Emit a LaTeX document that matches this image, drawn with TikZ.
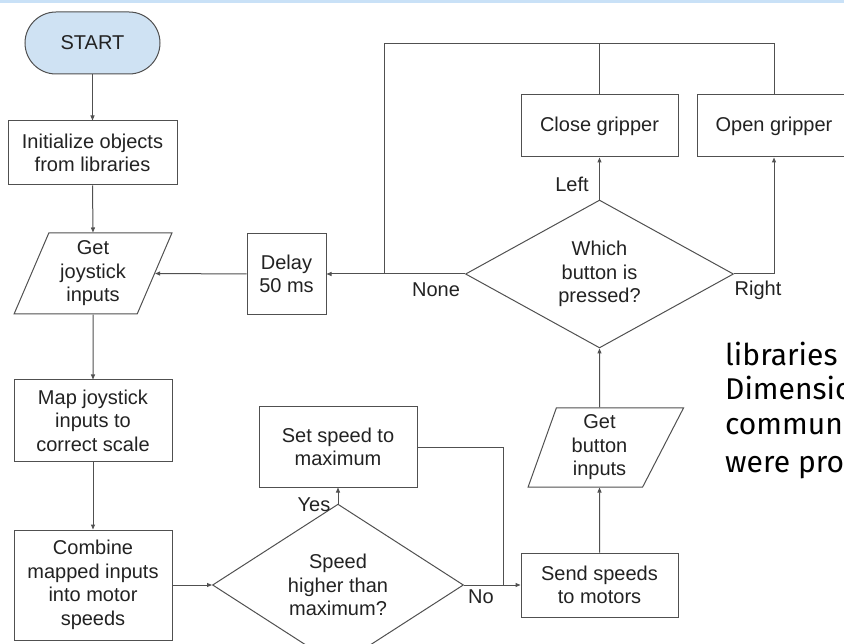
\documentclass[tikz,border=0pt]{standalone}
\usepackage{fontspec}
\setmainfont{Liberation Sans}
\newfontfamily\sidefont{Fira Sans}
\usetikzlibrary{shapes.geometric,arrows.meta}
\definecolor{startfill}{HTML}{CFE2F3}
\definecolor{band}{HTML}{C9E1F7}
\definecolor{edge}{HTML}{505050}
\definecolor{ink}{HTML}{222222}
\begin{document}
\begin{tikzpicture}[x=1pt,y=-1pt,
  every node/.style={font=\fontsize{20}{23.5}\selectfont, text=ink},
  box/.style={draw=edge, line width=1pt, rectangle, inner sep=0pt, align=center},
  startbox/.style={box, fill=startfill, rounded corners=31pt},
  iobox/.style={draw=edge, line width=1pt, trapezium, trapezium stretches=true, inner sep=0pt, align=center},
  dia/.style={draw=edge, line width=1pt, diamond, inner sep=0pt, align=center},
  conn/.style={draw=edge, line width=1pt},
  arr/.style={conn, -{Triangle[length=5pt,width=4pt]}},
  lbl/.style={inner sep=0pt},
  side/.style={anchor=base west, inner sep=0pt, text=black, font=\sidefont\fontsize{30}{35}\selectfont}
]
\useasboundingbox (0,0) rectangle (844,644);
\fill[band] (0,0) rectangle (844,3.3);

% nodes
\node[startbox, minimum width=135, minimum height=62] (start) at (92.5,43) {START};
\node[box, minimum width=169, minimum height=64] (init) at (92.5,153) {Initialize objects\\from libraries};
\node[iobox, trapezium left angle=68.4, trapezium right angle=111.6, minimum width=158, minimum height=81] (gj) at (93,273.5) {Get\\joystick\\inputs};
\node[box, minimum width=158, minimum height=81] (map) at (93,420.5) {Map joystick\\inputs to\\correct scale};
\node[box, minimum width=158, minimum height=110] (comb) at (93,585) {Combine\\mapped inputs\\into motor\\speeds};
\node[dia, minimum width=251, minimum height=130] (speed) at (338,585) {Speed\\higher than\\maximum?};
\node[box, minimum width=158, minimum height=80] (setmax) at (338,447) {Set speed to\\maximum};
\node[box, minimum width=157, minimum height=64] (send) at (599.5,585) {Send speeds\\to motors};
\node[iobox, trapezium left angle=74.4, trapezium right angle=112, minimum width=157, minimum height=79] (gb) at (599.5,447.5) {Get\\button\\inputs};
\node[dia, minimum width=268, minimum height=130] (which) at (599.5,274) {Which\\button is\\pressed?};
\node[box, minimum width=157, minimum height=62] (close) at (599.5,126) {Close gripper};
\node[box, minimum width=154, minimum height=62] (open) at (774,126) {Open gripper};
\node[box, minimum width=79, minimum height=81] (delay) at (286.5,274) {Delay\\50 ms};

% junction points
\coordinate (jn) at (384,274);
\coordinate (tl) at (384,44);
\coordinate (tr) at (774,44);
\coordinate (jm) at (503,585);

% connectors
\draw[arr] (start.south) -- (init.north);
\draw[arr] (init.south) -- (gj.north);
\draw[arr] (gj.south) -- (map.north);
\draw[arr] (map.south) -- (comb.north);
\draw[arr] (comb.east) -- (speed.west);
\draw[arr] (speed.north) -- (setmax.south);
\draw[arr] (speed.east) -- (send.west);
\draw[conn] (setmax.east) -| (jm);
\draw[arr] (send.north) -- (gb.south);
\draw[arr] (gb.north) -- (which.south);
\draw[arr] (which.north) -- (close.south);
\draw[arr] (which.east) -| (open.south);
\draw[arr] (which.west) -- (delay.east);
\draw[arr] (delay.west) -- (gj.east);
\draw[conn] (jn) -- (tl) -- (tr) -- (open.north);
\draw[conn] (close.north) -- (close.north |- tl);

% labels
\node[lbl] (lyes) at (314,505) {Yes};
\node[lbl] (lno) at (481,597) {No};
\node[lbl] (lleft) at (572,184) {Left};
\node[lbl] (lnone) at (436,290) {None};
\node[lbl] (lright) at (758,290) {Right};

% side text
\begin{scope}
\clip (0,0) rectangle (844,644);
\node[side] (s1) at (725,366) {libraries};
\node[side] (s2) at (725,400) {Dimensio};
\node[side] (s3) at (725,435) {commun};
\node[side] (s4) at (725,472) {were pro};
\end{scope}
\end{tikzpicture}
\end{document}
